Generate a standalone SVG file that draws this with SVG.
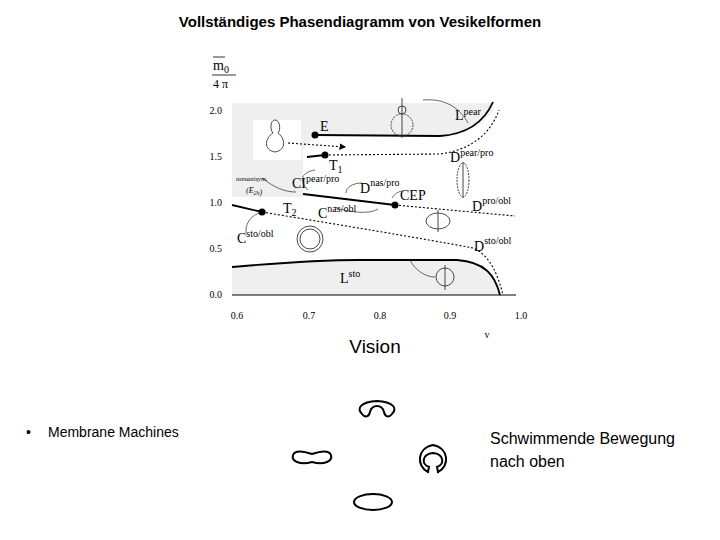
<svg xmlns="http://www.w3.org/2000/svg" width="720" height="540" viewBox="0 0 720 540">
<style>
text{font-family:"Liberation Sans",Arial,sans-serif;fill:#000}
text.s,.s text{font-family:"Liberation Serif","Times New Roman",serif}
.sm{font-size:10px}
.lb{font-size:14px}
.sup{font-size:10px}
.ln{fill:none;stroke:#000;stroke-width:1.8}
.dt{fill:none;stroke:#000;stroke-width:1.1;stroke-dasharray:2,2}
.th{fill:none;stroke:#444;stroke-width:0.8}
.sh{fill:none;stroke:#000;stroke-width:2}
</style>
<defs><marker id="a" markerWidth="6" markerHeight="6" refX="5" refY="3" orient="auto"><path d="M0,0 L6,3 L0,6 Z" fill="#000"/></marker></defs>
<rect width="720" height="540" fill="#fff"/>
<text x="360" y="27" text-anchor="middle" font-weight="bold" font-size="15">Vollständiges Phasendiagramm von Vesikelformen</text>
<g id="plot">
<path d="M232,103 L493,103 L493,110 C485,122 470,134 440,136 L315,135 L303,150 L303,197 L232,197 Z" fill="#efefef"/>
<rect x="253" y="120" width="48" height="40" fill="#fff"/>
<path d="M232,267 C290,262 330,260 358,260 L457,260 C485,262 495,275 500,295 L232,295 Z" fill="#efefef"/>
<line x1="232" y1="295" x2="516" y2="295" stroke="#000" stroke-width="1"/>
<g class="s sm" text-anchor="end">
<text x="222" y="114">2.0</text><text x="222" y="160">1.5</text><text x="222" y="206">1.0</text><text x="222" y="252">0.5</text><text x="222" y="298">0.0</text>
</g>
<g class="s sm" text-anchor="middle">
<text x="237" y="319">0.6</text><text x="309" y="319">0.7</text><text x="380" y="319">0.8</text><text x="450" y="319">0.9</text><text x="521" y="319">1.0</text>
<text x="487" y="338">v</text>
</g>
<text class="s" x="213" y="70" font-size="14">m<tspan font-size="10" dy="3">0</tspan></text>
<line x1="213" y1="57" x2="225" y2="57" stroke="#000" stroke-width="0.8"/>
<line x1="212" y1="75" x2="236" y2="75" stroke="#000" stroke-width="0.8"/>
<text class="s" x="213" y="88" font-size="12">4 π</text>
</g>
<g id="connectors">
<path class="ln" d="M315,135 L440,136 C470,134 485,120 493,102"/>
<path class="dt" d="M325,155 L440,154 C470,150 490,135 499,110"/>
<path class="ln" d="M307,157 L325,155"/>
<path class="dt" d="M288,143 L345,147" marker-end="url(#a)"/>
<path class="ln" d="M303,194 L395,205"/>
<path class="dt" d="M395,205 L515,216"/>
<path class="ln" d="M232,205 L262,212"/>
<path class="dt" d="M262,212 C340,225 420,238 473,248 C490,255 498,275 503,295"/>
<path class="ln" d="M232,267 C290,262 330,260 358,260 L457,260 C485,262 495,275 500,295"/>
<path class="th" d="M423,100 C445,98 460,108 468,123"/>
<path class="th" d="M315,170 C302,172 298,180 308,190"/>
<path class="th" d="M262,178 C275,188 285,192 296,192"/>
<path class="th" d="M362,183 C352,183 346,188 346,193"/>
<path class="th" d="M392,198 C395,193 398,192 402,191"/>
<path class="th" d="M266,212 C255,212 245,220 246,233"/>
<path class="th" d="M335,207 C345,212 370,215 378,209"/>
<path class="th" d="M410,260 C415,270 425,277 435,277"/>
<circle cx="315" cy="135" r="3.5"/><circle cx="325" cy="155" r="3.5"/><circle cx="395" cy="205" r="3.5"/><circle cx="262" cy="212" r="3.5"/>
</g>
<g id="labels" class="s">
<text class="lb" x="320" y="131">E</text>
<text class="lb" x="455" y="120">L<tspan class="sup" dy="-5">pear</tspan></text>
<text class="lb" x="450" y="162">D<tspan class="sup" dy="-6">pear/pro</tspan></text>
<text class="lb" x="329" y="170">T<tspan font-size="10" dy="3">1</tspan></text>
<text x="236" y="181" font-size="7" font-style="italic">nonaxisym.</text>
<text x="246" y="193" font-size="8" font-style="italic">(E<tspan font-size="6" dy="2">2h</tspan>)</text>
<text class="lb" x="292" y="188">CI<tspan class="sup" dy="-6">pear/pro</tspan></text>
<text class="lb" x="360" y="193">D<tspan class="sup" dy="-7">nas/pro</tspan></text>
<text class="lb" x="400" y="200">CEP</text>
<text class="lb" x="472" y="211">D<tspan class="sup" dy="-7">pro/obl</tspan></text>
<text class="lb" x="283" y="213">T<tspan font-size="10" dy="3">2</tspan></text>
<text class="lb" x="318" y="218">C<tspan class="sup" dy="-6">nas/obl</tspan></text>
<text class="lb" x="237" y="243">C<tspan class="sup" dy="-6">sto/obl</tspan></text>
<text class="lb" x="474" y="251">D<tspan class="sup" dy="-7">sto/obl</tspan></text>
<text class="lb" x="340" y="283">L<tspan class="sup" dy="-6">sto</tspan></text>
</g>
<g id="icons" fill="none" stroke="#333" stroke-width="0.9">
<path d="M275,120 C270,120 270,130 273,133 C265,138 263,150 275,152 C287,150 285,138 278,133 C281,130 280,120 275,120 Z"/>
<circle cx="402" cy="125" r="11" stroke-dasharray="2,1"/><circle cx="402" cy="110" r="4"/><line x1="402" y1="98" x2="402" y2="138"/>
<ellipse cx="463" cy="180" rx="6" ry="17" stroke-dasharray="2,1"/><line x1="463" y1="162" x2="463" y2="198"/>
<ellipse cx="438" cy="221" rx="12" ry="8"/><line x1="438" y1="210" x2="438" y2="232"/>
<circle cx="310" cy="239" r="13"/><circle cx="310" cy="239" r="10"/>
<circle cx="445" cy="277" r="9"/><line x1="445" y1="265" x2="445" y2="290"/>
</g>
<text x="375" y="353" text-anchor="middle" font-size="19">Vision</text>
<text x="26" y="437" font-size="14">•</text>
<text x="48" y="437" font-size="14">Membrane Machines</text>
<text x="490" y="444" font-size="16">Schwimmende Bewegung</text>
<text x="490" y="467" font-size="16"> nach oben</text>
<g id="vision">
<path class="sh" d="M362,414 C356,408 361,402 377,401 C393,402 398,408 392,414 C389,418 385,417 384,412 C382,404 372,404 370,412 C369,417 365,418 362,414 Z"/>
<path class="sh" d="M293,455 C295,450 303,451 312,454 C321,451 329,450 331,455 C333,462 323,465 312,462 C301,465 291,462 293,455 Z"/>
<path class="sh" d="M428,472 C416,466 417,448 433,445 C449,448 450,466 438,472 L437,467 C445,464 444,454 433,453 C422,454 421,464 429,467 Z"/>
<ellipse class="sh" cx="373" cy="502" rx="19" ry="8"/>
</g>
</svg>
